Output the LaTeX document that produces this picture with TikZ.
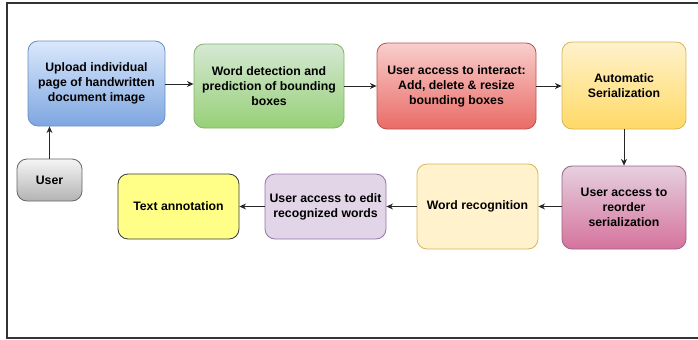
\documentclass[tikz,border=0pt]{standalone}
\usepackage{fontspec}
\setmainfont{Liberation Sans}
\usetikzlibrary{arrows.meta}

\definecolor{blueTop}{HTML}{DAE8FC}
\definecolor{blueBot}{HTML}{7EA6E0}
\definecolor{blueLine}{HTML}{6C8EBF}
\definecolor{greenTop}{HTML}{D5E8D4}
\definecolor{greenBot}{HTML}{97D077}
\definecolor{greenLine}{HTML}{82B366}
\definecolor{redTop}{HTML}{F8CECC}
\definecolor{redBot}{HTML}{EA6B66}
\definecolor{redLine}{HTML}{B85450}
\definecolor{sandTop}{HTML}{FFF2CC}
\definecolor{sandBot}{HTML}{FFD966}
\definecolor{sandLine}{HTML}{D6B656}
\definecolor{pinkTop}{HTML}{E6D0DE}
\definecolor{pinkBot}{HTML}{D5739D}
\definecolor{pinkLine}{HTML}{996185}
\definecolor{lilac}{HTML}{E1D5E7}
\definecolor{lilacLine}{HTML}{9673A6}
\definecolor{lemon}{HTML}{FFFF88}
\definecolor{lemonLine}{HTML}{36393D}
\definecolor{greyTop}{HTML}{F5F5F5}
\definecolor{greyBot}{HTML}{B3B3B3}
\definecolor{greyLine}{HTML}{666666}

\tikzset{
    stage/.style={draw, line width=0.6pt, rounded corners=7.5pt, align=center,
        inner sep=1pt, font=\bfseries\fontsize{9.2}{11.2}\selectfont},
    flow/.style={-{Stealth[length=5pt,width=4.5pt]}, line width=0.7pt, draw=black!85},
}

\begin{document}
\begin{tikzpicture}[x=0.75pt, y=-0.75pt]
    \useasboundingbox (0,0) rectangle (698,339);
    \draw[line width=1.2pt, draw=black!80] (698,3) -- (7,3) -- (7,338) -- (698,338);

    % top row
    \node[stage, draw=blueLine, top color=blueTop, bottom color=blueBot,
        minimum width=102.75pt, minimum height=63.75pt] (upload) at (96.5,83.5)
        {Upload individual\\page of handwritten\\document image};
    \node[stage, draw=greenLine, top color=greenTop, bottom color=greenBot,
        minimum width=112.5pt, minimum height=63pt] (detect) at (269,86)
        {Word detection and\\prediction of bounding\\boxes};
    \node[stage, draw=redLine, top color=redTop, bottom color=redBot,
        minimum width=119.25pt, minimum height=64.5pt] (interact) at (456.5,86)
        {User access to interact:\\Add, delete \& resize\\bounding boxes};
    \node[stage, draw=sandLine, top color=sandTop, bottom color=sandBot,
        minimum width=93pt, minimum height=65.25pt] (serial) at (624,85.5)
        {Automatic\\Serialization};

    % bottom row
    \node[stage, draw=pinkLine, top color=pinkTop, bottom color=pinkBot,
        minimum width=93pt, minimum height=62.25pt] (reorder) at (624,207.5)
        {User access to\\reorder\\serialization};
    \node[stage, draw=sandLine, fill=sandTop,
        minimum width=90.75pt, minimum height=63.75pt] (recog) at (477.5,206.5)
        {Word recognition};
    \node[stage, draw=lilacLine, fill=lilac,
        minimum width=90.75pt, minimum height=48.75pt] (edit) at (325.5,206.5)
        {User access to edit\\recognized words};
    \node[stage, draw=lemonLine, fill=lemon,
        minimum width=90.75pt, minimum height=48.75pt] (annot) at (178.5,206.5)
        {Text annotation};
    \node[stage, draw=greyLine, top color=greyTop, bottom color=greyBot,
        minimum width=48.75pt, minimum height=31.5pt] (user) at (49.5,180)
        {User};

    % connectors
    \draw[flow] (user) -- (upload.south -| user.north);
    \draw[flow] (upload.east |- 0,84) -- (detect.west |- 0,84);
    \draw[flow] (detect) -- (interact);
    \draw[flow] (interact) -- (serial.west |- interact.east);
    \draw[flow] (serial) -- (reorder);
    \draw[flow] (reorder.west |- recog.east) -- (recog);
    \draw[flow] (recog) -- (edit);
    \draw[flow] (edit) -- (annot);
\end{tikzpicture}
\end{document}
